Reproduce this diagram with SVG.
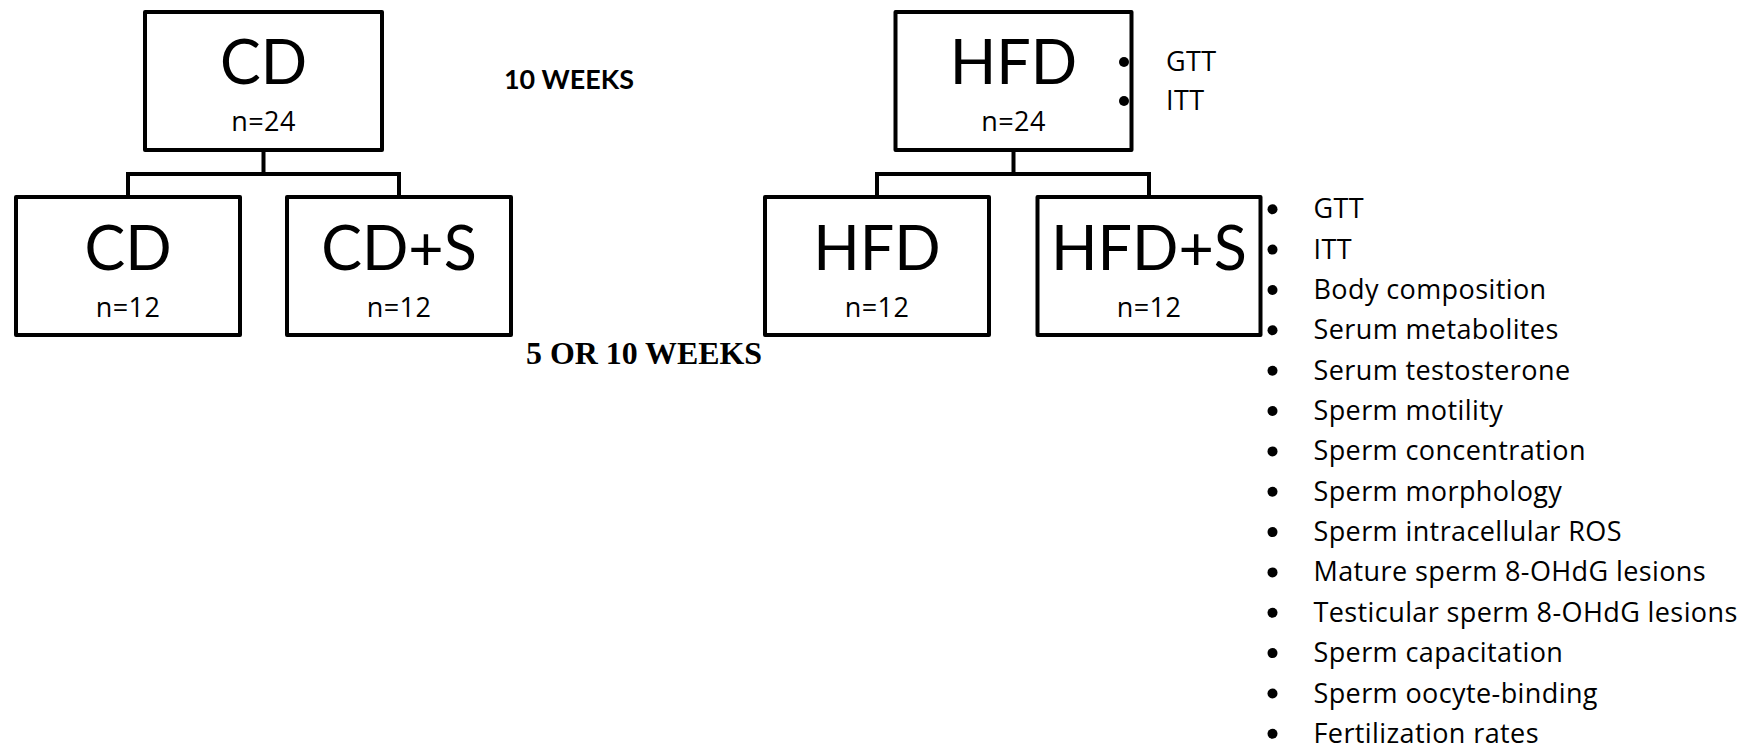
<svg xmlns="http://www.w3.org/2000/svg" width="1744" height="750" viewBox="0 0 1744 750">
<style>
.box{fill:#fff;stroke:#000;stroke-width:4;stroke-linejoin:round}
.conn{fill:none;stroke:#000;stroke-width:4;stroke-linejoin:miter}
.big{font-family:Lato,"Open Sans",sans-serif;font-size:61px;text-anchor:middle;fill:#000}
.n{font-family:"Open Sans",Lato,sans-serif;font-size:27px;letter-spacing:0.4px;text-anchor:middle;fill:#000}
.item{font-family:"Open Sans",Lato,sans-serif;font-size:27px;letter-spacing:0.4px;fill:#000}
.wk{font-family:Lato,"Open Sans",sans-serif;font-size:27px;font-weight:bold;fill:#000}
.wk2{font-family:"Liberation Serif","Times New Roman",serif;font-size:31.5px;font-weight:bold;fill:#000}
.dot{fill:#000}
</style>
<rect width="1744" height="750" fill="#fff"/>
<g id="connectors">
<path class="conn" d="M263.5 152V174M128 197V174H399V197"/>
<path class="conn" d="M1013.5 152V174M877 197V174H1149V197"/>
</g>
<g id="cd-top"><rect class="box" x="145" y="12" width="237" height="138"/><text class="big" x="263.5" y="84">CD</text><text class="n" x="263.5" y="131">n=24</text></g>
<g id="cd-left"><rect class="box" x="16" y="197" width="224" height="138"/><text class="big" x="128" y="269.5">CD</text><text class="n" x="128" y="316.5">n=12</text></g>
<g id="cd-s"><rect class="box" x="287" y="197" width="224" height="138"/><text class="big" x="399" y="269.5">CD+S</text><text class="n" x="399" y="316.5">n=12</text></g>
<g id="hfd-top"><rect class="box" x="895.5" y="12" width="236" height="138"/><text class="big" x="1013.5" y="84">HFD</text><text class="n" x="1013.5" y="131">n=24</text></g>
<g id="hfd-left"><rect class="box" x="765" y="197" width="224" height="138"/><text class="big" x="877" y="269.5">HFD</text><text class="n" x="877" y="316.5">n=12</text></g>
<g id="hfd-s"><rect class="box" x="1037.5" y="197" width="223" height="138"/><text class="big" x="1149" y="269.5">HFD+S</text><text class="n" x="1149" y="316.5">n=12</text></g>
<g id="labels">
<text class="wk" x="504" y="89" textLength="130" lengthAdjust="spacingAndGlyphs">10 WEEKS</text>
<text class="wk2" x="526" y="363.5" textLength="236" lengthAdjust="spacingAndGlyphs">5 OR 10 WEEKS</text>
</g>
<g id="hfd-top-tests">
<circle class="dot" cx="1124" cy="62" r="5"/><circle class="dot" cx="1124" cy="101" r="5"/>
<text class="item" x="1166" y="71">GTT</text><text class="item" x="1166" y="110">ITT</text>
</g>
<g id="hfd-s-tests">
<circle class="dot" cx="1272.5" cy="209.3" r="5"/><text class="item" x="1313.5" y="218.3">GTT</text>
<circle class="dot" cx="1272.5" cy="249.6" r="5"/><text class="item" x="1313.5" y="258.6">ITT</text>
<circle class="dot" cx="1272.5" cy="290" r="5"/><text class="item" x="1313.5" y="299">Body composition</text>
<circle class="dot" cx="1272.5" cy="330.3" r="5"/><text class="item" x="1313.5" y="339.3">Serum metabolites</text>
<circle class="dot" cx="1272.5" cy="370.7" r="5"/><text class="item" x="1313.5" y="379.7">Serum testosterone</text>
<circle class="dot" cx="1272.5" cy="411" r="5"/><text class="item" x="1313.5" y="420">Sperm motility</text>
<circle class="dot" cx="1272.5" cy="451.4" r="5"/><text class="item" x="1313.5" y="460.4">Sperm concentration</text>
<circle class="dot" cx="1272.5" cy="491.7" r="5"/><text class="item" x="1313.5" y="500.7">Sperm morphology</text>
<circle class="dot" cx="1272.5" cy="532.1" r="5"/><text class="item" x="1313.5" y="541.1">Sperm intracellular ROS</text>
<circle class="dot" cx="1272.5" cy="572.4" r="5"/><text class="item" x="1313.5" y="581.4">Mature sperm 8-OHdG lesions</text>
<circle class="dot" cx="1272.5" cy="612.8" r="5"/><text class="item" x="1313.5" y="621.8">Testicular sperm 8-OHdG lesions</text>
<circle class="dot" cx="1272.5" cy="653.1" r="5"/><text class="item" x="1313.5" y="662.1">Sperm capacitation</text>
<circle class="dot" cx="1272.5" cy="693.5" r="5"/><text class="item" x="1313.5" y="702.5">Sperm oocyte-binding</text>
<circle class="dot" cx="1272.5" cy="733.8" r="5"/><text class="item" x="1313.5" y="742.8">Fertilization rates</text>
</g>
</svg>
